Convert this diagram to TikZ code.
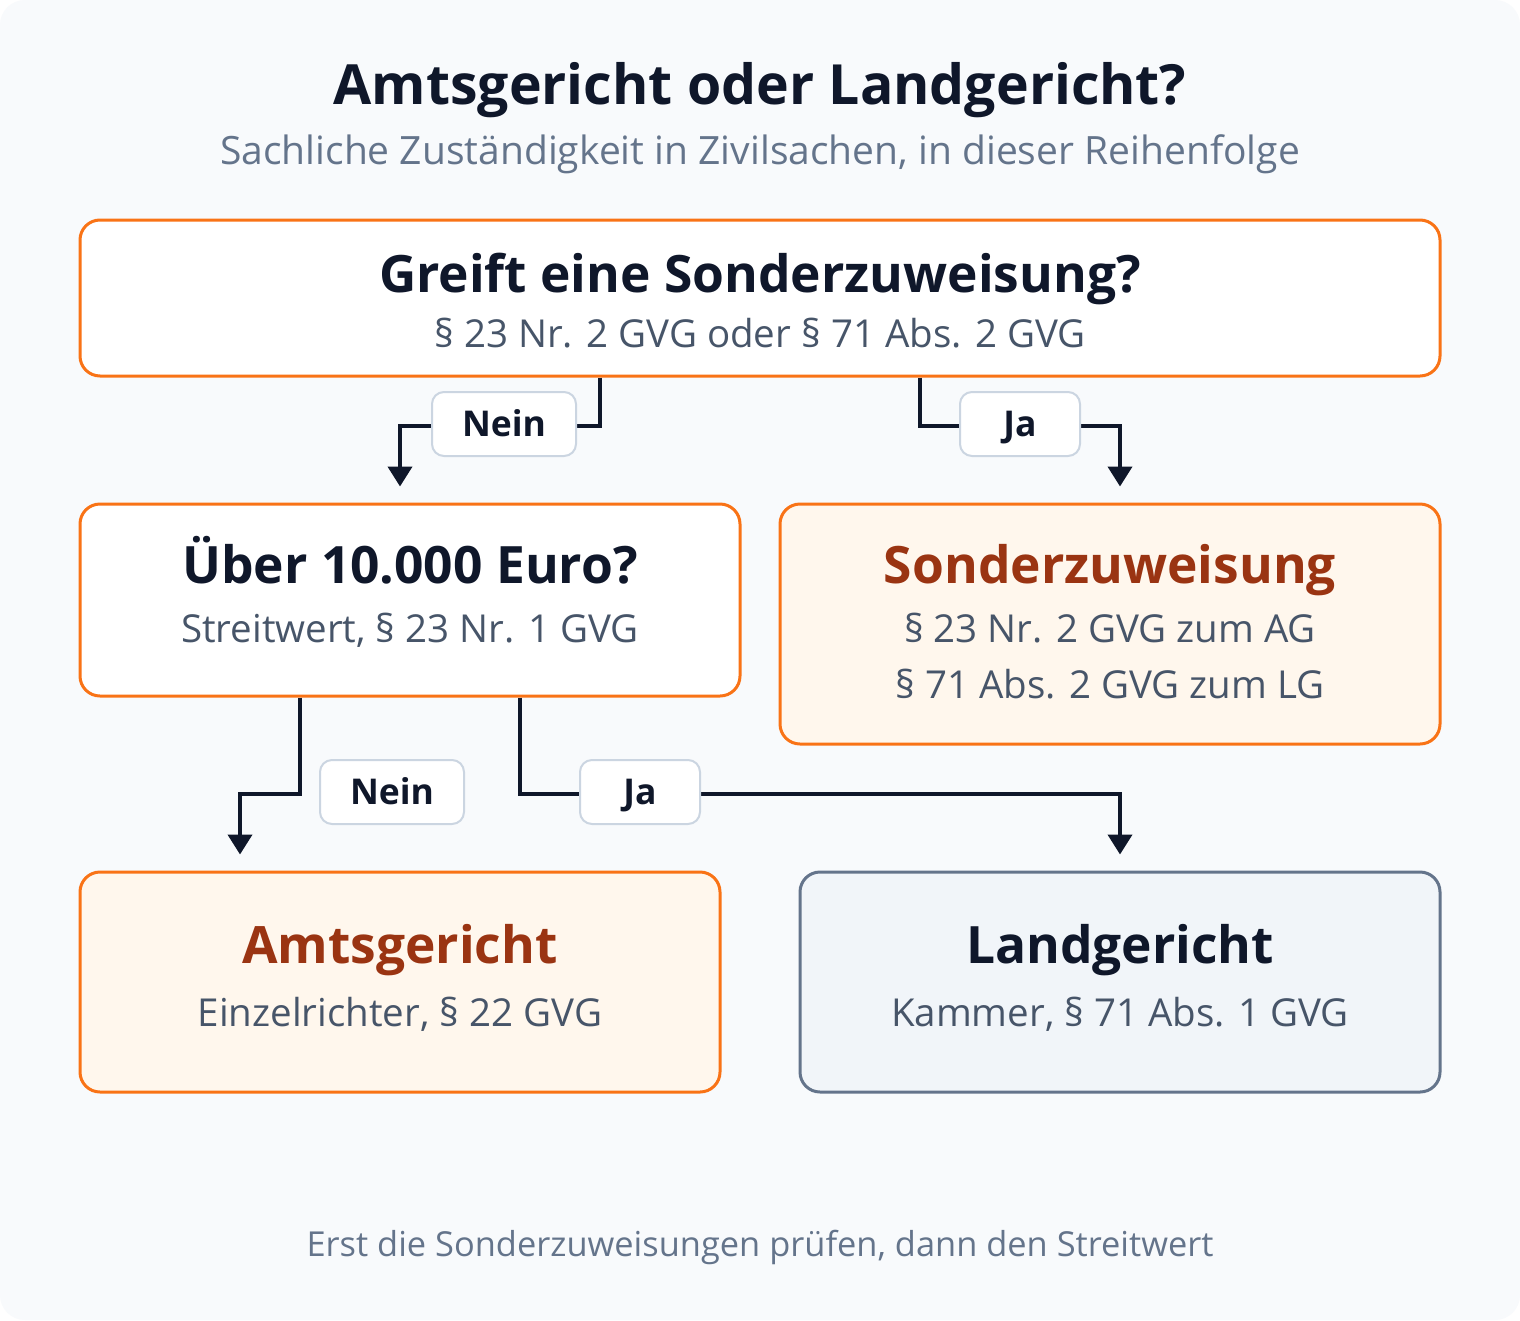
\documentclass[tikz,border=0pt]{standalone}
\usepackage{fontspec}
\setmainfont{Open Sans}
\usetikzlibrary{arrows.meta,calc}
\definecolor{bgc}{HTML}{F8FAFC}
\definecolor{ink}{HTML}{0F172A}
\definecolor{muted}{HTML}{64748B}
\definecolor{subt}{HTML}{475569}
\definecolor{orng}{HTML}{F97316}
\definecolor{peach}{HTML}{FFF7ED}
\definecolor{rust}{HTML}{9A3412}
\definecolor{slatefill}{HTML}{F1F5F9}
\definecolor{slateline}{HTML}{64748B}
\definecolor{pill}{HTML}{CBD5E1}
\tikzset{
  card/.style={draw=orng, line width=3pt, rounded corners=20pt, fill=white, inner sep=0pt},
  cardpeach/.style={card, fill=peach},
  cardslate/.style={card, draw=slateline, fill=slatefill},
  headtxt/.style={font=\fontsize{51.5}{56}\selectfont\bfseries, text=ink, inner sep=0pt, anchor=base},
  subtxt/.style={font=\fontsize{38.5}{44}\selectfont, text=subt, inner sep=0pt, anchor=base},
  pilllabel/.style={draw=pill, line width=2pt, fill=white, rounded corners=12pt, minimum width=144pt, minimum height=64pt, inner sep=0pt, text height=25pt, text depth=0pt, font=\fontsize{35.5}{40}\selectfont\bfseries, text=ink},
  conn/.style={draw=ink, line width=4pt, -{Triangle[width=24pt,length=20pt]}}
}
\begin{document}
\begin{tikzpicture}[x=1pt,y=-1pt]
\useasboundingbox (0,0) rectangle (1520,1320);
\fill[white] (0,0) rectangle (1520,1320);
\fill[bgc, rounded corners=25pt] (0,0) rectangle (1520,1320);

\node[font=\fontsize{55.4}{60}\selectfont\bfseries, text=ink, inner sep=0pt, anchor=base] (title) at (760,104) {Amtsgericht oder Landgericht?};
\node[font=\fontsize{39}{44}\selectfont, text=muted, inner sep=0pt, anchor=base] (subtitle) at (760,164) {Sachliche Zuständigkeit in Zivilsachen, in dieser Reihenfolge};

% boxes
\node[card, minimum width=1360pt, minimum height=156pt] (q1) at (760,298) {};
\node[headtxt] (q1h) at (760,292) {Greift eine Sonderzuweisung?};
\node[subtxt] (q1s) at (760,347) {§ 23 Nr. 2 GVG oder § 71 Abs. 2 GVG};

\node[card, minimum width=660pt, minimum height=192pt] (q2) at (410,600) {};
\node[headtxt] (q2h) at (410,583) {Über 10.000 Euro?};
\node[subtxt] (q2s) at (410,642) {Streitwert, § 23 Nr. 1 GVG};

\node[cardpeach, minimum width=660pt, minimum height=240pt] (sz) at (1110,624) {};
\node[headtxt, text=rust] (szh) at (1110,583) {Sonderzuweisung};
\node[subtxt] (sz1) at (1110,642) {§ 23 Nr. 2 GVG zum AG};
\node[subtxt] (sz2) at (1110,698) {§ 71 Abs. 2 GVG zum LG};

\node[cardpeach, minimum width=640pt, minimum height=220pt] (ag) at (400,982) {};
\node[headtxt, text=rust] (agh) at (400,963) {Amtsgericht};
\node[subtxt] (ags) at (400,1026) {Einzelrichter, § 22 GVG};

\node[cardslate, minimum width=640pt, minimum height=220pt] (lg) at (1120,982) {};
\node[headtxt] (lgh) at (1120,963) {Landgericht};
\node[subtxt] (lgs) at (1120,1026) {Kammer, § 71 Abs. 1 GVG};

% connectors
\draw[conn] ([xshift=-160pt]q1.south) |- ++(0,48) -| ([xshift=-10pt,yshift=16pt]q2.north);
\draw[conn] ([xshift=160pt]q1.south) |- ++(0,48) -| ([xshift=10pt,yshift=16pt]sz.north);
\draw[conn] ([xshift=-110pt]q2.south) |- ++(0,96) -| ([xshift=-160pt,yshift=16pt]ag.north);
\draw[conn] ([xshift=110pt]q2.south) |- ++(0,96) -| ([yshift=16pt]lg.north);

% labels
\node[pilllabel] (l1) at (504,424) {Nein};
\node[pilllabel, minimum width=120pt] (l2) at (1020,424) {Ja};
\node[pilllabel] (l3) at (392,792) {Nein};
\node[pilllabel, minimum width=120pt] (l4) at (640,792) {Ja};

\node[font=\fontsize{34.4}{40}\selectfont, text=muted, inner sep=0pt, anchor=base] (foot) at (760,1256) {Erst die Sonderzuweisungen prüfen, dann den Streitwert};
\end{tikzpicture}
\end{document}
